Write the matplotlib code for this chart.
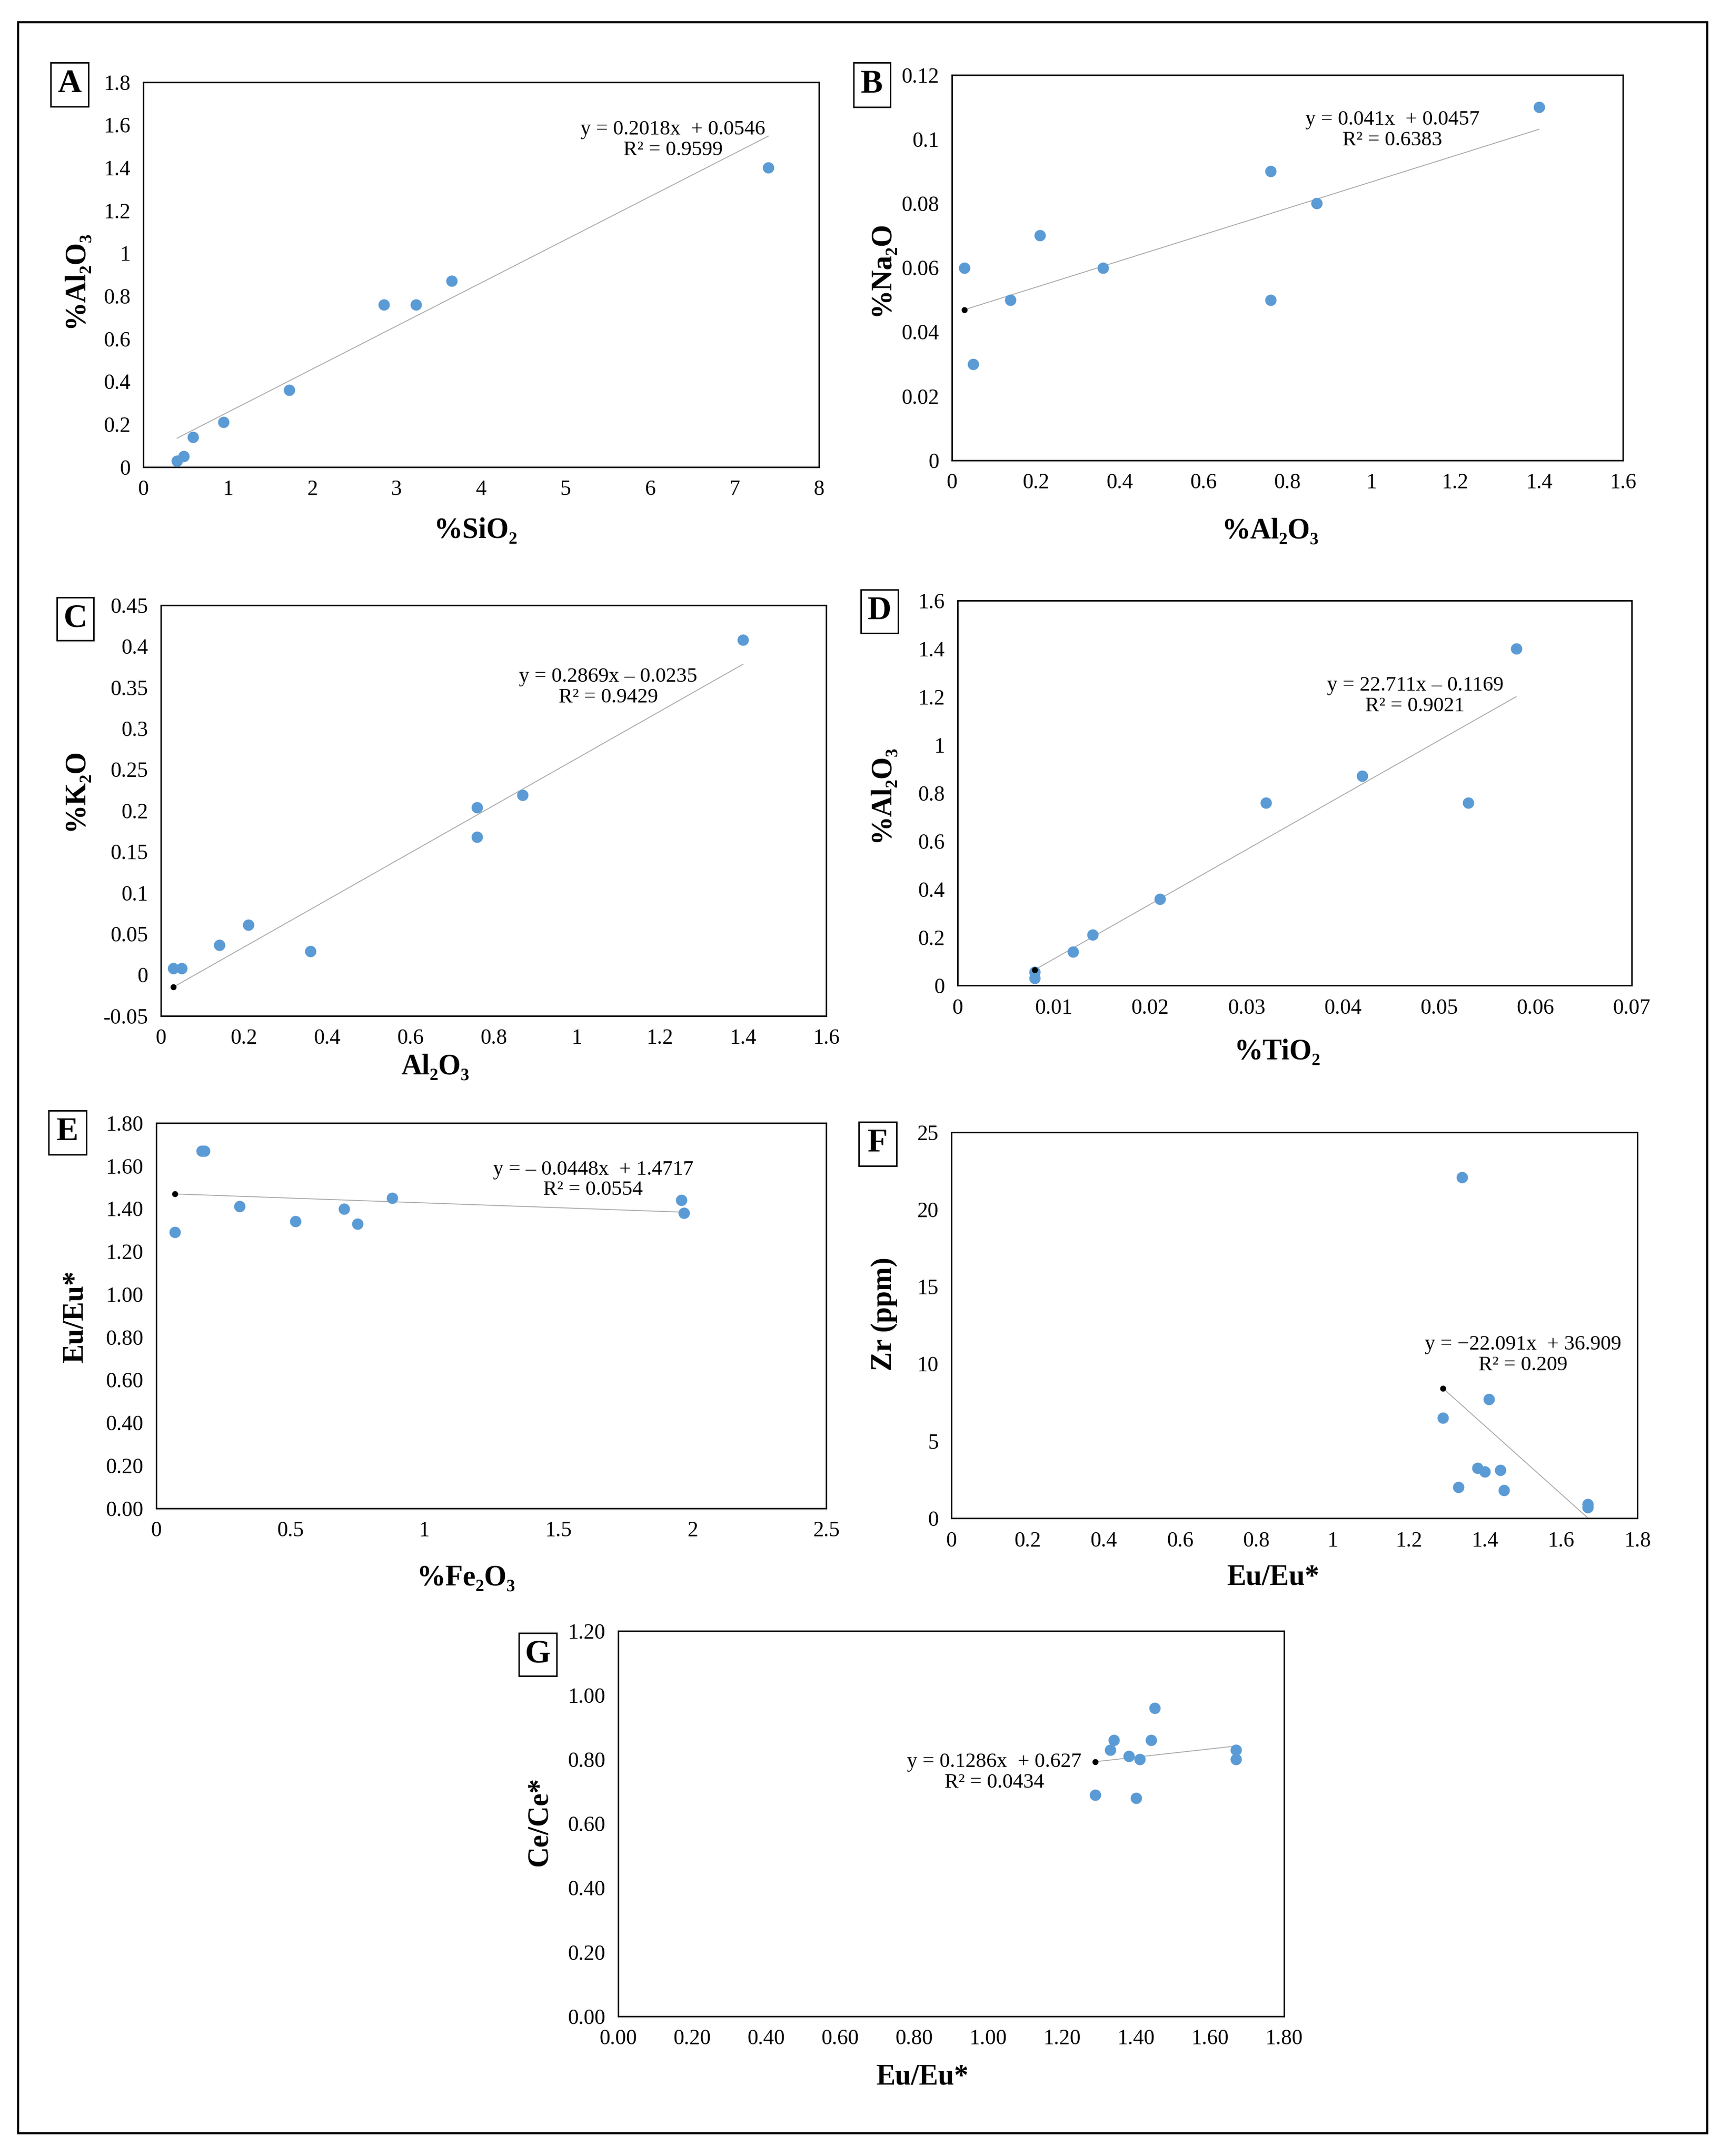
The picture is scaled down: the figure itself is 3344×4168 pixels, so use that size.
import numpy as np
import matplotlib
matplotlib.use('Agg')
import matplotlib.pyplot as plt
from matplotlib.patches import Rectangle
from matplotlib.ticker import FuncFormatter

plt.rcParams['font.family'] = ['Liberation Serif', 'DejaVu Serif']

# datos
A_x = [0.40, 0.48, 0.59, 0.95, 1.73, 2.85, 3.23, 3.65, 7.40]
A_y = [0.03, 0.05, 0.14, 0.21, 0.36, 0.76, 0.76, 0.87, 1.40]

B_x = [0.03, 0.05, 0.14, 0.21, 0.36, 0.76, 0.76, 0.87, 1.40]
B_y = [0.06, 0.03, 0.05, 0.07, 0.06, 0.09, 0.05, 0.08, 0.11]

C_x = [0.03, 0.05, 0.14, 0.21, 0.36, 0.76, 0.76, 0.87, 1.40]
C_y = [0.008, 0.008, 0.036, 0.061, 0.029, 0.204, 0.168, 0.219, 0.408]

D_x = [0.008, 0.008, 0.012, 0.014, 0.021, 0.032, 0.042, 0.053, 0.058]
D_y = [0.03, 0.055, 0.14, 0.21, 0.36, 0.76, 0.87, 0.76, 1.40]

E_x = [0.07, 0.17, 0.18, 0.31, 0.52, 0.70, 0.75, 0.88, 1.96, 1.97]
E_y = [1.29, 1.67, 1.67, 1.41, 1.34, 1.40, 1.33, 1.45, 1.44, 1.38]

F_x = [1.29, 1.33, 1.34, 1.38, 1.40, 1.41, 1.44, 1.45, 1.67, 1.67]
F_y = [6.5, 2.0, 22.1, 3.25, 3.0, 7.7, 3.1, 1.8, 0.9, 0.7]

G_x = [1.29, 1.33, 1.34, 1.38, 1.40, 1.41, 1.44, 1.45, 1.67, 1.67]
G_y = [0.69, 0.83, 0.86, 0.81, 0.68, 0.80, 0.86, 0.96, 0.83, 0.80]

# ajustes lineales (pendiente, ordenada, R2)
slopes = [0.2018, 0.041, 0.2869, 22.711, -0.0448, -22.091, 0.1286]
intercepts = [0.0546, 0.0457, -0.0235, -0.1169, 1.4717, 36.909, 0.627]
eq_text = [
    'y = 0.2018x  + 0.0546\nR² = 0.9599',
    'y = 0.041x  + 0.0457\nR² = 0.6383',
    'y = 0.2869x \u2013 0.0235\nR² = 0.9429',
    'y = 22.711x \u2013 0.1169\nR² = 0.9021',
    'y = \u2013 0.0448x  + 1.4717\nR² = 0.0554',
    'y = \u221222.091x  + 36.909\nR² = 0.209',
    'y = 0.1286x  + 0.627\nR² = 0.0434',
]
eq_pos = [(6.27, 1.53), (1.05, 0.1029), (1.076, 0.350), (0.0475, 1.204),
          (1.63, 1.534), (1.50, 10.56), (1.017, 0.759)]

letters = ['A', 'B', 'C', 'D', 'E', 'F', 'G']
xlabels = ['%SiO\u2082', '%Al\u2082O\u2083', 'Al\u2082O\u2083', '%TiO\u2082',
           '%Fe\u2082O\u2083', 'Eu/Eu*', 'Eu/Eu*']
ylabels = ['%Al\u2082O\u2083', '%Na\u2082O', '%K\u2082O', '%Al\u2082O\u2083',
           'Eu/Eu*', 'Zr (ppm)', 'Ce/Ce*']

xlims = [(0, 8), (0, 1.6), (0, 1.6), (0, 0.07), (0, 2.5), (0, 1.8), (0, 1.8)]
xsteps = [1, 0.2, 0.2, 0.01, 0.5, 0.2, 0.2]
ylims = [(0, 1.8), (0, 0.12), (-0.05, 0.45), (0, 1.6), (0, 1.8), (0, 25), (0, 1.2)]
ysteps = [0.2, 0.02, 0.05, 0.2, 0.2, 5, 0.2]
xfmt = ['%g', '%g', '%g', '%g', '%g', '%g', '%.2f']
yfmt = ['%g', '%g', '%g', '%g', '%.2f', '%g', '%.2f']
start_dot = [False, True, True, True, True, True, True]

xs = [A_x, B_x, C_x, D_x, E_x, F_x, G_x]
ys = [A_y, B_y, C_y, D_y, E_y, F_y, G_y]

# posiciones en pixeles (izq, arriba, der, abajo)
W, H = 3344, 4168
ax_px = [(277, 159, 1583, 903), (1840, 145, 3137, 890),
         (311, 1170, 1597, 1964), (1851, 1161, 3154, 1905),
         (302, 2171, 1597, 2916), (1839, 2189, 3165, 2935),
         (1195, 3153, 2482, 3898)]
box_px = [(98, 121, 171, 206), (1650, 121, 1721, 207),
          (110, 1155, 181, 1238), (1664, 1140, 1736, 1224),
          (94, 2147, 167, 2232), (1660, 2169, 1733, 2254),
          (1003, 3157, 1076, 3240)]
xl_px = [(919, 1026), (2455, 1026), (842, 2063), (2469, 2034),
         (901, 3050), (2460, 3050), (1782, 4016)]
yl_px = [(146, 540), (1704, 519), (146, 1527), (1704, 1534),
         (146, 2546), (1709, 2540), (1043, 3522)]

blue = '#5B9BD5'

fig = plt.figure(figsize=(W / 100, H / 100), dpi=100)


def fx(x):
    return x / W


def fy(y):
    return 1 - y / H


# marco exterior
fig.patches.append(Rectangle((fx(35), fy(4124)), fx(3300) - fx(35), fy(43) - fy(4124),
                             transform=fig.transFigure, fill=False, lw=3, ec='black'))

for i in range(7):
    l, t, r, b = ax_px[i]
    ax = fig.add_axes([fx(l), fy(b), fx(r) - fx(l), fy(t) - fy(b)])
    x = np.array(xs[i])
    y = np.array(ys[i])

    ax.scatter(x, y, s=250, color=blue, zorder=3, linewidths=0)

    # linea de tendencia
    xt = np.array([x.min(), x.max()])
    ax.plot(xt, slopes[i] * xt + intercepts[i], color='#a6a6a6', lw=1.2, zorder=2)
    if start_dot[i]:
        ax.scatter([xt[0]], [slopes[i] * xt[0] + intercepts[i]], s=70,
                   color='black', zorder=4, linewidths=0)

    ax.text(eq_pos[i][0], eq_pos[i][1], eq_text[i], fontsize=29, ha='center',
            va='center', multialignment='center', linespacing=1.1)

    ax.set_xlim(*xlims[i])
    ax.set_ylim(*ylims[i])
    ax.set_xticks(np.arange(xlims[i][0], xlims[i][1] + xsteps[i] / 2, xsteps[i]))
    ax.set_yticks(np.arange(ylims[i][0], ylims[i][1] + ysteps[i] / 2, ysteps[i]))
    fx_fmt = xfmt[i]
    fy_fmt = yfmt[i]
    ax.xaxis.set_major_formatter(FuncFormatter(lambda v, p, f=fx_fmt: f % (round(v, 6) + 0.0)))
    ax.yaxis.set_major_formatter(FuncFormatter(lambda v, p, f=fy_fmt: f % (round(v, 6) + 0.0)))
    ax.tick_params(length=0, labelsize=30, pad=18)
    for sp in ax.spines.values():
        sp.set_linewidth(2)

    # etiquetas
    fig.text(fx(xl_px[i][0]), fy(xl_px[i][1]), xlabels[i], fontsize=40,
             fontweight='bold', ha='center', va='center')
    fig.text(fx(yl_px[i][0]), fy(yl_px[i][1]), ylabels[i], fontsize=40,
             fontweight='bold', ha='center', va='center', rotation=90)

    bl, bt, br, bb = box_px[i]
    fig.patches.append(Rectangle((fx(bl), fy(bb)), fx(br) - fx(bl), fy(bt) - fy(bb),
                                 transform=fig.transFigure, fill=False, lw=2, ec='black'))
    fig.text(fx((bl + br) / 2), fy((bt + bb) / 2), letters[i], fontsize=46,
             fontweight='bold', ha='center', va='center')

fig.savefig('out.png', dpi=100, facecolor='white')
